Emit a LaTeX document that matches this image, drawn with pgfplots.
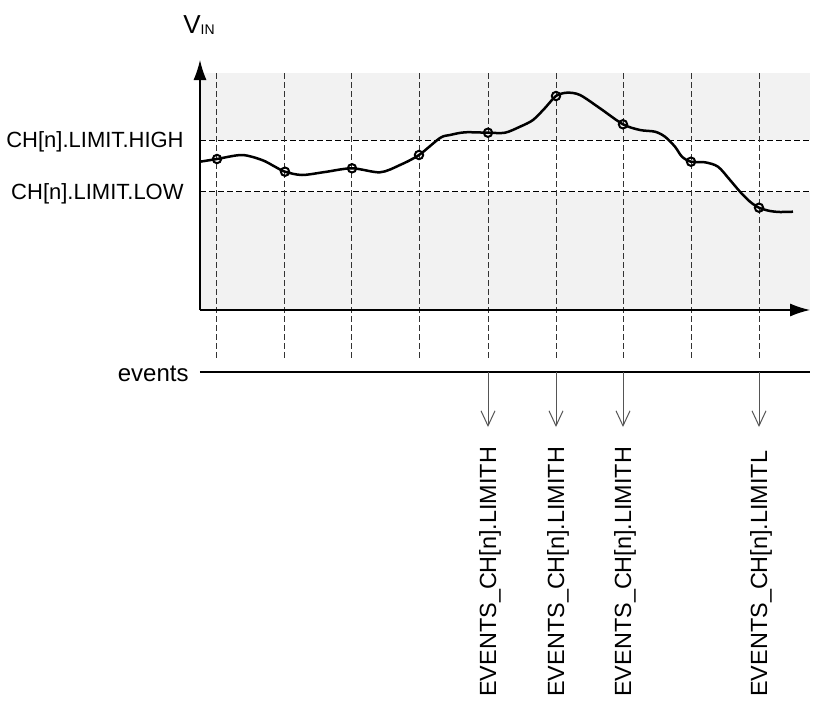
\documentclass[border=0pt]{standalone}
\usepackage{pgfplots}
\pgfplotsset{compat=1.18}
\usepackage{pgfplotstable}
\usetikzlibrary{arrows.meta}
\usepackage{fontspec}
\setmainfont{Liberation Sans}

\pgfplotstableread{
x y
0 148.3
17 151
42 155
62 150
75 143.3
85 138.3
102 135
125 138
152 141.7
180 137.7
200 145
219 155
240 172
250 175
265 177.7
288 177.3
305 177.3
320 183.3
333 190
345 202
356 214
367 217.3
380 215
400 201.7
423 185.7
440 180
455 178.3
465 173.3
475 163.3
482 153.3
491 148.3
505 147.7
518 143.3
530 130
540 118.3
550 108.3
559 102.3
570 99
580 98
593 98.3
}\curvedata

\pgfplotstableread{
x y
17 151
85 138.3
152 141.7
219 155
288 177.3
356 214
423 185.7
491 148.3
559 102.3
}\samples

\definecolor{bggray}{HTML}{F2F2F2}
\definecolor{arrgray}{HTML}{555555}

\begin{document}
\begin{tikzpicture}
\begin{axis}[
  scale only axis, width=305pt, height=125pt,
  xmin=0, xmax=610, ymin=0, ymax=250,
  axis lines=none, clip=false,
]
% bounding box of the whole picture
\path (axis cs:-200,310) rectangle (axis cs:640,-396);
% gray background bands
\fill[bggray] (axis cs:0,0) rectangle (axis cs:610,118.5);
\fill[bggray] (axis cs:0,170) rectangle (axis cs:610,237);
% limit lines
\draw[line width=0.5pt, dash pattern=on 3pt off 1.5pt] (axis cs:0,170) -- (axis cs:610,170);
\draw[line width=0.5pt, dash pattern=on 3pt off 1.5pt] (axis cs:0,118.5) -- (axis cs:610,118.5);
% sampling lines
\pgfplotsinvokeforeach{17,85,152,219,288,356,423,491,559}{
  \draw[line width=0.5pt, black!80, dash pattern=on 3pt off 1.5pt] (axis cs:#1,237) -- (axis cs:#1,-48);
}
% axes
\draw[line width=0.6pt, -{Latex[length=10pt,width=6.5pt]}] (axis cs:0,0) -- (axis cs:0,250);
\draw[line width=0.6pt, -{Latex[length=10pt,width=6.5pt]}] (axis cs:0,0) -- (axis cs:610,0);
% signal
\addplot[black, line width=1.25pt, smooth, no markers] table[x=x,y=y] {\curvedata};
\addplot[black, line width=1pt, only marks, mark=o, mark size=2.1pt] table[x=x,y=y] {\samples};
% labels
\node[anchor=base east, inner sep=0pt, font=\fontsize{11}{13}\selectfont] at (axis cs:-16,162.3) {CH[n].LIMIT.HIGH};
\node[anchor=base east, inner sep=0pt, font=\fontsize{11}{13}\selectfont] at (axis cs:-16,111) {CH[n].LIMIT.LOW};
\node[anchor=base west, inner sep=0pt] at (axis cs:-17,277) {{\fontsize{13}{15}\selectfont V}\raisebox{-0.5pt}{\fontsize{7}{8}\selectfont IN}};
% events
\draw[line width=0.6pt] (axis cs:0,-62) -- (axis cs:610,-62);
\node[anchor=base east, inner sep=0pt, font=\fontsize{12}{14}\selectfont] at (axis cs:-11,-71.5) {events};
\pgfplotsinvokeforeach{288,356,423,559}{
  \draw[line width=0.5pt, arrgray, -{Straight Barb[length=7.5pt,width=7pt]}] (axis cs:#1,-62) -- (axis cs:#1,-117);
}
\node[rotate=90, anchor=base west, inner sep=0pt, font=\fontsize{11.7}{13}\selectfont] at (axis cs:296,-387) {EVENTS\_CH[n].LIMITH};
\node[rotate=90, anchor=base west, inner sep=0pt, font=\fontsize{11.7}{13}\selectfont] at (axis cs:364,-387) {EVENTS\_CH[n].LIMITH};
\node[rotate=90, anchor=base west, inner sep=0pt, font=\fontsize{11.7}{13}\selectfont] at (axis cs:431,-387) {EVENTS\_CH[n].LIMITH};
\node[rotate=90, anchor=base west, inner sep=0pt, font=\fontsize{11.7}{13}\selectfont] at (axis cs:567,-387) {EVENTS\_CH[n].LIMITL};
\end{axis}
\end{tikzpicture}
\end{document}
